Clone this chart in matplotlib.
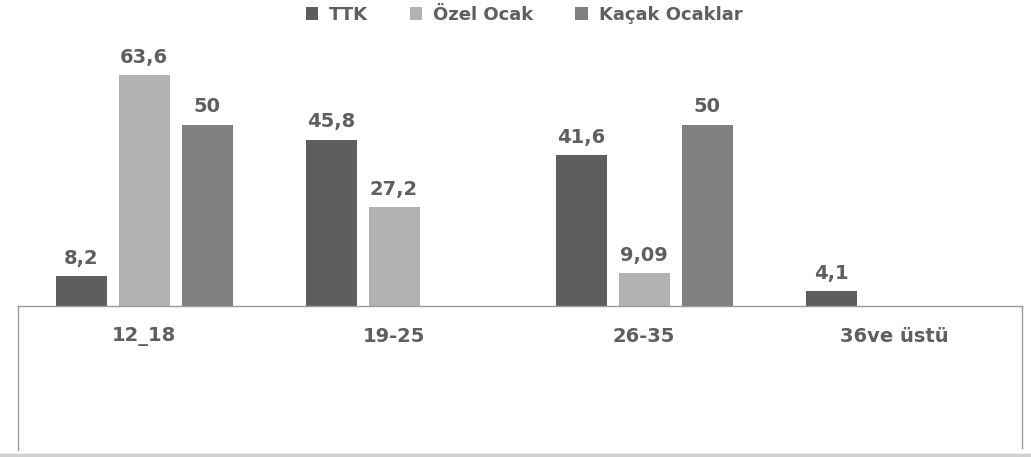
import matplotlib.pyplot as plt
import numpy as np
from matplotlib.lines import Line2D

categories = ['12_18', '19-25', '26-35', '36ve üstü']
series_names = ['TTK', 'Özel Ocak', 'Kaçak Ocaklar']
ttk = [8.2, 45.8, 41.6, 4.1]
ozel = [63.6, 27.2, 9.09, np.nan]
kacak = [50, np.nan, 50, np.nan]
colors = ['#5e5e5e', '#b2b2b2', '#808080']
txt_color = '#5f5f5f'

W, H = 1031, 457
fig = plt.figure(figsize=(W / 100, H / 100), dpi=100)
# bars sit on a baseline at y=306 px
ax = fig.add_axes([19 / W, (H - 306) / H, 1000 / W, 254 / H])

x = np.arange(len(categories))
width = 0.204
offset = 0.252
for i, (vals, name, col) in enumerate(zip([ttk, ozel, kacak], series_names, colors)):
    pos = x + (i - 1) * offset
    ax.bar(pos, vals, width, color=col, label=name)
    for p, v in zip(pos, vals):
        if np.isnan(v):
            continue
        txt = ('%g' % v).replace('.', ',')
        ax.annotate(txt, (p, v), xytext=(0, 6), textcoords='offset points',
                    ha='center', va='bottom', fontsize=14, fontweight='bold',
                    color=txt_color)

ax.set_xlim(-0.5, 3.5)
ax.set_ylim(0, 70)
ax.set_yticks([])
ax.set_xticks(x)
ax.set_xticklabels(categories, fontsize=14, fontweight='bold', color=txt_color)
ax.tick_params(axis='x', length=0, pad=15)
for s in ax.spines.values():
    s.set_visible(False)


# box below the baseline (pixel -> figure coords)
def fx(px):
    return px / W


def fy(py):
    return 1 - py / H


lc = '#9a9a9a'
fig.add_artist(Line2D([fx(18), fx(1022)], [fy(306), fy(306)], color=lc, lw=1))
fig.add_artist(Line2D([fx(18), fx(18)], [fy(306), fy(450)], color=lc, lw=1))
fig.add_artist(Line2D([fx(1022), fx(1022)], [fy(306), fy(448)], color=lc, lw=1))
fig.add_artist(Line2D([0, 1], [fy(455), fy(455)], color='#d0d0d0', lw=2.5))

handles, labels = ax.get_legend_handles_labels()
fig.legend(handles, labels, loc='center', bbox_to_anchor=(fx(524), fy(15)), ncol=3,
           frameon=False, handlelength=0.7, handleheight=0.7,
           handletextpad=0.6, columnspacing=2.3, labelcolor=txt_color,
           prop={'size': 13, 'weight': 'bold'})

fig.savefig('out.png', dpi=100)
